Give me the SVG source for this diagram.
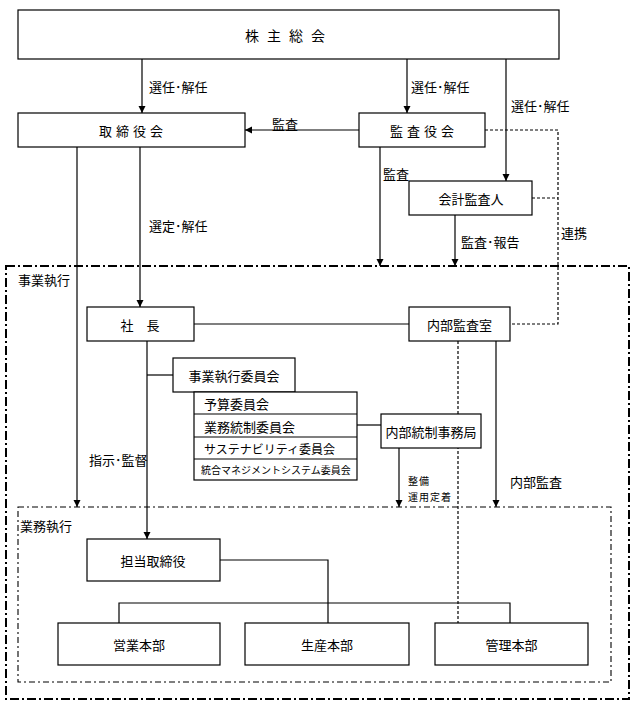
<svg xmlns="http://www.w3.org/2000/svg" width="637" height="705" viewBox="0 0 637 705">
<defs>
<marker id="ah" markerWidth="8" markerHeight="8" refX="7" refY="3.5" orient="auto" markerUnits="userSpaceOnUse">
<path d="M0,0 L7,3.5 L0,7 z" fill="#000"/>
</marker>
<style>
text{font-family:"Noto Sans CJK JP","Noto Sans CJK SC",sans-serif;font-size:13px;fill:#000}
.box{fill:#fff;stroke:#000;stroke-width:1.2}
.c{text-anchor:middle;dominant-baseline:central}
.l{dominant-baseline:central}
.ln{fill:none;stroke:#000;stroke-width:1.2}
.ar{fill:none;stroke:#000;stroke-width:1.2;marker-end:url(#ah)}
.dot{fill:none;stroke:#000;stroke-width:1.2;stroke-dasharray:3,2}
.outer{fill:none;stroke:#000;stroke-width:2;stroke-dasharray:9,3,2,3}
.inner{fill:none;stroke:#000;stroke-width:1.1;stroke-dasharray:6,3,2,3}
</style>
</defs>
<rect width="637" height="705" fill="#fff"/>

<g id="frames">
<rect class="outer" x="6" y="266" width="623" height="433"/>
<text class="l" x="18" y="279">事業執行</text>
<rect class="inner" x="18" y="507" width="593" height="175"/>
<text class="l" x="20" y="525">業務執行</text>
</g>

<g id="connectors">
<line class="ar" x1="142" y1="59" x2="142" y2="113"/>
<line class="ar" x1="407" y1="59" x2="407" y2="113"/>
<line class="ar" x1="506" y1="59" x2="506" y2="181"/>
<line class="ar" x1="359" y1="130" x2="245" y2="130"/>
<polyline class="dot" points="485,130 558,130 558,324 510,324"/>
<line class="dot" x1="532" y1="198" x2="558" y2="198"/>
<line class="ar" x1="380" y1="147" x2="380" y2="266"/>
<line class="ar" x1="455" y1="215" x2="455" y2="266"/>
<line class="ar" x1="77" y1="147" x2="77" y2="507"/>
<line class="ar" x1="140" y1="147" x2="140" y2="307"/>
<line class="ln" x1="194" y1="324" x2="409" y2="324"/>
<line class="ar" x1="147" y1="341" x2="147" y2="539"/>
<line class="ln" x1="147" y1="375" x2="173" y2="375"/>
<line class="ln" x1="357" y1="425" x2="381" y2="425"/>
<line class="ar" x1="399" y1="448" x2="399" y2="507"/>
<line class="dot" x1="458" y1="341" x2="458" y2="623"/>
<line class="ar" x1="496" y1="341" x2="496" y2="507"/>
<polyline class="ln" points="220,560 328,560 328,623"/>
<polyline class="ln" points="119,623 119,603 510,603 510,623"/>
<text class="l" x="149" y="86">選任･解任</text>
<text class="l" x="411" y="86">選任･解任</text>
<text class="l" x="511" y="105">選任･解任</text>
<text class="l" x="272" y="123">監査</text>
<text class="l" x="383" y="173">監査</text>
<text class="l" x="461" y="241">監査･報告</text>
<text class="l" x="561" y="232">連携</text>
<text class="l" x="149" y="225">選定･解任</text>
<text class="l" x="89" y="459">指示･監督</text>
<text class="l" x="408" y="480" style="font-size:10px;letter-spacing:1px">整備</text>
<text class="l" x="408" y="496" style="font-size:10px;letter-spacing:1px">運用定着</text>
<text class="l" x="510" y="481">内部監査</text>
</g>

<g id="kabunushi">
<rect class="box" x="18" y="10" width="541" height="49"/>
<text class="c" x="289" y="35" style="font-size:14px;letter-spacing:8px">株主総会</text>
</g>
<g id="torishimariyakukai">
<rect class="box" x="18" y="113" width="227" height="34"/>
<text class="c" x="133" y="130" style="letter-spacing:4px">取締役会</text>
</g>
<g id="kansayakukai">
<rect class="box" x="359" y="113" width="126" height="34"/>
<text class="c" x="424" y="130" style="letter-spacing:4px">監査役会</text>
</g>
<g id="kaikeikansanin">
<rect class="box" x="409" y="181" width="123" height="34"/>
<text class="c" x="471" y="198">会計監査人</text>
</g>
<g id="shacho">
<rect class="box" x="87" y="307" width="107" height="34"/>
<text class="c" x="140" y="324">社　長</text>
</g>
<g id="naibukansashitsu">
<rect class="box" x="409" y="307" width="101" height="34"/>
<text class="c" x="459.5" y="324">内部監査室</text>
</g>
<g id="jigyoshikkoiinkai">
<rect class="box" x="173" y="358" width="122" height="34"/>
<text class="c" x="234" y="375">事業執行委員会</text>
</g>
<g id="committees">
<rect class="box" x="194" y="392" width="163" height="88"/>
<line class="ln" x1="194" y1="414" x2="357" y2="414"/>
<line class="ln" x1="194" y1="437" x2="357" y2="437"/>
<line class="ln" x1="194" y1="459" x2="357" y2="459"/>
<text class="l" x="204" y="403">予算委員会</text>
<text class="l" x="204" y="426">業務統制委員会</text>
<text class="l" x="204" y="448" style="font-size:12px">サステナビリティ委員会</text>
<text class="l" x="201" y="469" style="font-size:10px">統合マネジメントシステム委員会</text>
</g>
<g id="naibutoseijimukyoku">
<rect class="box" x="381" y="414" width="100" height="34"/>
<text class="c" x="431" y="431">内部統制事務局</text>
</g>
<g id="tantotorishimariyaku">
<rect class="box" x="87" y="539" width="133" height="42"/>
<text class="c" x="153" y="560">担当取締役</text>
</g>
<g id="eigyohonbu">
<rect class="box" x="58" y="623" width="162" height="42"/>
<text class="c" x="139" y="644">営業本部</text>
</g>
<g id="seisanhonbu">
<rect class="box" x="245" y="623" width="164" height="42"/>
<text class="c" x="327" y="644">生産本部</text>
</g>
<g id="kanrihonbu">
<rect class="box" x="435" y="623" width="153" height="42"/>
<text class="c" x="511.5" y="644">管理本部</text>
</g>
</svg>
